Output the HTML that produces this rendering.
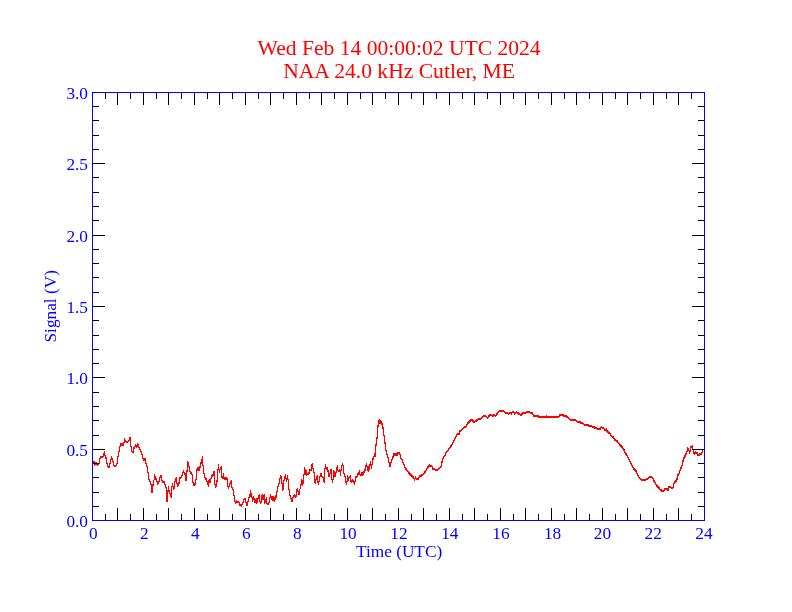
<!DOCTYPE html>
<html><head><meta charset="utf-8"><title>NAA 24.0 kHz Cutler, ME</title>
<style>
html,body{margin:0;padding:0;background:#fff;}
svg{display:block;font-family:"Liberation Serif",serif;}
</style></head><body>
<svg width="792" height="612" viewBox="0 0 792 612">
<rect width="792" height="612" fill="#fff"/>
<g fill="#f00" font-size="21.6" text-anchor="middle">
<text x="399.1" y="55">Wed Feb 14 00:00:02 UTC 2024</text>
<text x="399.1" y="77.8">NAA 24.0 kHz Cutler, ME</text>
</g>
<g fill="none" stroke="#f00" stroke-width="1" stroke-linejoin="round" shape-rendering="crispEdges"><polyline points="93.0,462.8 94.2,460.9 94.9,464.3 96.1,462.1 97.2,464.5 99.1,462.8 100.2,457.5 101.4,456.0 102.9,456.0 104.4,451.8 104.8,454.5 105.9,456.8 106.7,462.1 107.8,465.9 109.3,466.6 110.5,460.6 111.6,456.8 112.7,459.8 113.9,464.7 115.0,465.9 116.9,464.0 117.7,457.5 118.8,452.2 119.5,447.7 120.7,443.9 121.2,445.0 121.8,443.0 122.4,445.0 123.0,443.1 123.7,444.3 124.5,439.0 126.0,441.2 128.6,440.9 130.2,437.1 130.5,443.1 131.7,450.7 133.2,451.8 133.9,447.7 135.5,445.0 136.6,446.9 137.7,443.1 138.5,446.2 140.4,449.6 141.5,452.2 143.0,458.3 143.8,459.7 144.9,458.2 145.7,460.8 146.4,465.7 147.6,466.1 148.0,471.8 148.7,478.2 149.8,480.5 151.0,483.9 151.4,484.7 151.7,491.9 152.0,485.0 152.3,491.9 152.6,484.7 153.5,483.9 154.0,479.7 154.5,474.1 155.5,478.2 156.7,479.0 157.6,483.5 158.9,482.0 159.8,477.5 160.8,475.2 161.6,476.0 162.0,479.7 162.7,482.0 164.2,481.3 165.0,484.3 166.1,487.3 166.5,500.2 166.9,488.8 167.3,501.0 167.7,493.4 168.4,486.9 169.2,491.1 170.3,494.1 171.2,496.4 171.7,488.1 172.6,483.2 173.3,488.5 174.5,487.3 175.0,481.3 176.4,477.5 176.7,482.0 177.7,485.4 178.6,483.5 179.4,481.6 179.8,477.5 181.3,476.7 182.0,474.8 183.6,471.0 184.7,473.3 185.3,473.3 185.6,479.7 185.9,473.7 186.2,479.7 186.4,471.4 187.3,469.9 187.9,461.2 188.9,465.0 189.6,470.7 191.5,472.9 192.3,475.2 192.8,481.6 193.6,484.7 195.3,483.2 196.1,478.2 196.5,471.2 197.3,467.8 197.9,470.1 198.5,467.4 199.1,469.7 199.7,466.3 200.2,466.3 200.7,462.1 201.4,462.9 202.3,456.8 202.6,464.4 203.5,465.5 203.9,472.3 204.7,476.9 206.0,478.4 206.7,480.3 207.5,481.4 208.3,486.0 208.6,480.7 209.2,481.8 209.8,479.2 210.5,481.4 210.9,478.0 211.8,475.4 212.8,475.7 213.6,471.2 214.5,471.6 214.8,482.6 215.6,486.7 216.6,485.6 217.0,480.3 217.6,479.9 217.9,470.1 218.5,464.8 219.4,471.6 220.4,467.4 221.4,467.0 221.7,476.9 222.7,478.0 223.4,473.8 223.9,477.3 224.4,478.9 224.9,476.9 225.5,478.9 226.1,476.9 226.7,478.8 227.4,478.8 227.7,484.8 228.5,487.9 229.5,484.8 230.2,481.8 231.4,481.0 231.7,486.3 232.7,488.2 233.6,489.7 233.8,494.7 234.5,495.4 234.9,500.3 235.7,502.6 236.7,500.0 237.4,501.5 238.5,501.1 239.5,503.4 240.2,505.0 240.8,504.1 241.4,505.2 242.0,504.1 242.5,503.0 243.5,500.7 244.4,498.1 245.5,498.5 245.9,501.1 246.7,504.9 247.6,503.4 248.0,501.1 248.8,498.8 249.5,494.3 249.8,496.9 250.3,490.9 250.8,493.9 251.2,496.9 251.6,493.9 252.0,497.3 252.7,500.7 253.3,496.9 254.2,498.8 254.6,501.9 255.0,498.8 255.4,502.0 255.8,499.2 256.2,502.2 256.7,498.8 257.1,501.9 257.7,498.8 258.6,495.8 259.4,494.7 259.7,499.6 260.5,503.0 261.2,501.1 261.7,495.8 262.1,498.8 262.6,494.7 263.0,498.8 263.5,495.4 263.9,498.8 264.5,494.7 264.8,502.6 265.8,499.6 266.5,497.7 267.1,503.4 268.3,503.8 269.2,501.1 269.8,497.7 270.5,494.7 271.5,496.6 272.0,499.2 272.4,496.9 272.9,500.0 273.3,496.9 273.8,500.0 274.3,497.7 274.8,500.2 275.3,497.7 275.6,495.8 276.4,496.6 276.8,492.8 277.7,486.7 278.9,483.7 279.6,481.0 280.4,475.0 281.5,476.5 281.9,481.8 282.9,489.7 283.8,481.8 284.5,476.9 285.5,475.0 286.4,480.7 287.4,475.7 288.3,481.0 288.6,488.8 289.5,489.2 289.9,494.9 290.9,497.2 291.8,501.0 292.6,499.1 293.3,495.3 294.5,494.9 295.5,496.8 296.4,494.5 296.5,490.3 297.5,488.1 298.0,490.7 298.9,493.6 299.1,491.1 299.3,493.6 299.5,489.2 300.5,488.5 300.9,484.7 301.5,479.7 302.0,484.3 302.4,480.1 302.9,484.9 303.2,479.7 303.6,474.8 304.3,473.7 304.5,467.2 305.1,472.5 305.5,469.5 305.9,473.3 306.4,470.7 306.8,474.3 307.7,473.7 309.1,472.5 309.4,469.1 311.1,469.5 311.5,465.0 311.9,468.8 312.3,463.1 312.7,467.6 313.6,468.4 313.8,471.8 314.5,472.2 314.7,482.0 315.7,482.8 316.1,477.8 317.4,476.0 317.7,480.1 318.3,483.9 319.1,480.9 319.7,477.5 320.6,473.3 321.5,473.3 322.1,476.3 323.3,477.5 323.6,480.9 324.0,477.8 324.4,481.1 324.8,469.5 325.5,465.0 326.3,468.8 327.4,467.2 327.8,470.7 328.6,471.0 328.8,475.2 329.7,475.6 330.5,469.9 331.4,469.9 331.8,477.5 332.6,482.0 333.1,477.8 333.5,471.0 333.9,475.6 334.4,471.8 334.8,475.8 335.4,473.3 335.6,475.8 335.9,472.2 336.7,468.0 337.4,465.7 338.0,469.9 339.2,471.0 339.9,469.1 340.7,474.8 341.2,466.9 342.4,463.7 343.4,466.0 343.6,472.8 344.5,473.2 345.2,477.4 345.7,481.9 346.7,483.1 347.2,479.7 347.6,475.9 348.3,479.7 349.2,476.2 350.2,475.9 350.6,480.0 351.4,481.9 352.5,479.3 353.5,480.8 354.4,483.1 355.2,480.4 355.5,477.0 356.7,476.6 357.6,474.0 358.6,472.8 359.5,470.9 359.8,474.0 361.2,474.7 361.7,472.5 362.1,474.5 362.6,472.1 363.0,474.0 363.5,471.3 363.9,472.8 364.4,469.8 365.4,469.8 365.8,466.4 366.4,463.7 367.3,466.8 367.7,469.4 368.2,466.8 368.6,470.9 369.2,467.9 369.7,465.3 370.5,461.8 371.4,467.2 372.2,463.0 372.6,459.2 373.3,458.1 374.2,455.8 374.8,453.5 375.4,455.8 375.5,444.7 376.4,444.0 376.5,437.9 377.5,437.2 377.5,425.8 378.5,425.0 378.6,420.5 379.1,422.4 379.5,419.5 380.0,422.0 380.5,420.1 380.9,423.1 381.3,421.6 381.7,423.5 382.6,423.5 382.8,427.3 383.6,427.7 383.8,434.9 384.7,435.3 384.8,442.5 385.6,442.8 385.8,450.0 386.6,450.8 387.0,453.8 387.9,456.9 388.9,461.1 389.6,465.6 390.4,465.6 390.8,463.0 391.7,460.0 392.7,457.3 393.6,455.0 393.9,453.1 394.5,455.0 395.2,453.1 395.7,454.7 396.4,453.1 397.0,454.7 398.0,452.0 399.5,453.1 400.5,454.3 400.9,457.7 402.2,459.6 403.3,462.6 404.5,465.6 405.6,467.9 407.5,470.6 409.4,473.2 411.7,475.1 413.6,477.4 414.5,479.3 415.5,477.0 416.6,478.5 418.5,478.5 419.6,475.1 420.8,475.9 421.5,474.7 423.4,474.0 424.5,472.5 425.7,470.2 426.8,468.7 428.0,466.4 429.5,464.9 430.6,465.6 432.1,466.0 432.5,468.3 434.4,468.3 435.5,469.4 437.4,469.4 438.6,468.3 440.1,467.2 441.2,465.6 441.8,462.2 442.7,459.2 443.5,456.5 445.0,455.0 446.5,451.2 448.0,450.1 449.5,447.5 451.5,445.0 453.4,440.8 454.9,438.1 456.4,435.1 457.6,433.2 459.1,433.6 459.8,430.9 462.1,428.7 464.4,426.4 465.9,426.4 467.0,424.1 468.6,421.8 470.5,420.0 472.0,419.2 473.9,421.5 476.1,420.3 478.4,418.8 480.3,418.8 482.6,416.2 484.8,415.0 486.4,416.5 487.9,417.3 489.0,415.4 490.9,413.9 492.8,415.4 494.7,414.3 495.5,415.4 497.0,413.5 498.9,411.2 500.8,410.1 503.0,410.1 504.9,412.0 507.3,412.2 508.4,413.7 509.5,412.2 510.7,412.2 511.4,413.7 512.6,411.1 513.7,411.5 514.8,413.7 516.4,411.1 517.5,412.6 519.4,413.4 520.5,414.9 522.0,413.4 523.9,412.2 525.8,412.2 527.3,411.1 528.9,411.1 530.4,412.2 532.3,412.2 533.2,414.9 534.5,415.3 538.0,415.3 538.7,416.4 545.5,416.4 546.3,415.4 547.0,416.4 558.8,416.4 559.7,414.1 560.4,414.3 562.7,414.3 563.8,415.3 565.7,415.3 567.2,416.5 568.7,418.0 570.6,419.3 575.2,419.3 576.3,420.6 577.8,421.4 579.7,421.4 580.8,422.4 582.7,422.4 584.6,424.4 587.7,424.4 589.2,425.4 591.1,425.6 592.2,426.3 594.1,426.5 595.2,427.5 596.7,427.6 597.9,428.6 600.2,428.4 601.5,426.5 602.4,427.5 603.6,427.5 604.7,429.2 605.8,429.3 606.6,428.4 606.8,430.5 608.5,432.2 610.0,433.1 611.5,435.8 613.4,436.5 614.5,438.9 617.2,440.8 619.5,443.8 621.4,446.1 623.3,448.0 625.2,452.2 627.4,455.6 628.6,458.2 630.5,461.6 632.3,465.4 634.2,468.8 635.8,470.0 637.3,473.4 639.2,477.2 641.8,479.8 644.8,479.8 647.1,478.3 648.4,477.7 649.9,476.2 651.4,476.2 652.9,477.7 654.1,480.7 655.6,483.0 656.7,485.3 658.6,486.8 660.5,489.4 662.0,490.2 663.5,490.6 665.0,488.7 666.6,488.3 668.1,489.4 668.8,486.8 670.0,486.0 671.5,487.2 673.0,487.2 673.8,484.1 674.5,481.9 676.4,480.0 677.2,478.1 677.9,474.7 679.4,472.4 680.6,468.2 681.7,466.0 682.4,463.9 683.4,458.3 684.4,457.3 685.4,454.3 686.4,453.0 687.2,450.2 687.7,447.9 688.7,448.2 689.5,452.7 690.2,450.2 690.6,446.2 692.3,445.9 692.8,448.2 693.5,450.7 694.3,453.8 695.3,451.0 696.1,453.0 697.1,452.0 697.6,454.5 699.1,454.8 700.1,453.5 701.4,453.2 702.4,451.2 703.1,449.7"/><polyline points="93.0,463.8 94.2,461.9 94.9,465.3 96.1,463.1 97.2,465.5 99.1,463.8 100.2,458.5 101.4,457.0 102.9,457.0 104.4,452.8 104.8,455.5 105.9,457.8 106.7,463.1 107.8,466.9 109.3,467.6 110.5,461.6 111.6,457.8 112.7,460.8 113.9,465.7 115.0,466.9 116.9,465.0 117.7,458.5 118.8,453.2 119.5,448.7 120.7,444.9 121.2,446.0 121.8,444.0 122.4,446.0 123.0,444.1 123.7,445.3 124.5,440.0 126.0,442.2 128.6,441.9 130.2,438.1 130.5,444.1 131.7,451.7 133.2,452.8 133.9,448.7 135.5,446.0 136.6,447.9 137.7,444.1 138.5,447.2 140.4,450.6 141.5,453.2 143.0,459.3 143.8,460.7 144.9,459.2 145.7,461.8 146.4,466.7 147.6,467.1 148.0,472.8 148.7,479.2 149.8,481.5 151.0,484.9 151.4,485.7 151.7,492.9 152.0,486.0 152.3,492.9 152.6,485.7 153.5,484.9 154.0,480.7 154.5,475.1 155.5,479.2 156.7,480.0 157.6,484.5 158.9,483.0 159.8,478.5 160.8,476.2 161.6,477.0 162.0,480.7 162.7,483.0 164.2,482.3 165.0,485.3 166.1,488.3 166.5,501.2 166.9,489.8 167.3,502.0 167.7,494.4 168.4,487.9 169.2,492.1 170.3,495.1 171.2,497.4 171.7,489.1 172.6,484.2 173.3,489.5 174.5,488.3 175.0,482.3 176.4,478.5 176.7,483.0 177.7,486.4 178.6,484.5 179.4,482.6 179.8,478.5 181.3,477.7 182.0,475.8 183.6,472.0 184.7,474.3 185.3,474.3 185.6,480.7 185.9,474.7 186.2,480.7 186.4,472.4 187.3,470.9 187.9,462.2 188.9,466.0 189.6,471.7 191.5,473.9 192.3,476.2 192.8,482.6 193.6,485.7 195.3,484.2 196.1,479.2 196.5,472.2 197.3,468.8 197.9,471.1 198.5,468.4 199.1,470.7 199.7,467.3 200.2,467.3 200.7,463.1 201.4,463.9 202.3,457.8 202.6,465.4 203.5,466.5 203.9,473.3 204.7,477.9 206.0,479.4 206.7,481.3 207.5,482.4 208.3,487.0 208.6,481.7 209.2,482.8 209.8,480.2 210.5,482.4 210.9,479.0 211.8,476.4 212.8,476.7 213.6,472.2 214.5,472.6 214.8,483.6 215.6,487.7 216.6,486.6 217.0,481.3 217.6,480.9 217.9,471.1 218.5,465.8 219.4,472.6 220.4,468.4 221.4,468.0 221.7,477.9 222.7,479.0 223.4,474.8 223.9,478.3 224.4,479.9 224.9,477.9 225.5,479.9 226.1,477.9 226.7,479.8 227.4,479.8 227.7,485.8 228.5,488.9 229.5,485.8 230.2,482.8 231.4,482.0 231.7,487.3 232.7,489.2 233.6,490.7 233.8,495.7 234.5,496.4 234.9,501.3 235.7,503.6 236.7,501.0 237.4,502.5 238.5,502.1 239.5,504.4 240.2,506.0 240.8,505.1 241.4,506.2 242.0,505.1 242.5,504.0 243.5,501.7 244.4,499.1 245.5,499.5 245.9,502.1 246.7,505.9 247.6,504.4 248.0,502.1 248.8,499.8 249.5,495.3 249.8,497.9 250.3,491.9 250.8,494.9 251.2,497.9 251.6,494.9 252.0,498.3 252.7,501.7 253.3,497.9 254.2,499.8 254.6,502.9 255.0,499.8 255.4,503.0 255.8,500.2 256.2,503.2 256.7,499.8 257.1,502.9 257.7,499.8 258.6,496.8 259.4,495.7 259.7,500.6 260.5,504.0 261.2,502.1 261.7,496.8 262.1,499.8 262.6,495.7 263.0,499.8 263.5,496.4 263.9,499.8 264.5,495.7 264.8,503.6 265.8,500.6 266.5,498.7 267.1,504.4 268.3,504.8 269.2,502.1 269.8,498.7 270.5,495.7 271.5,497.6 272.0,500.2 272.4,497.9 272.9,501.0 273.3,497.9 273.8,501.0 274.3,498.7 274.8,501.2 275.3,498.7 275.6,496.8 276.4,497.6 276.8,493.8 277.7,487.7 278.9,484.7 279.6,482.0 280.4,476.0 281.5,477.5 281.9,482.8 282.9,490.7 283.8,482.8 284.5,477.9 285.5,476.0 286.4,481.7 287.4,476.7 288.3,482.0 288.6,489.8 289.5,490.2 289.9,495.9 290.9,498.2 291.8,502.0 292.6,500.1 293.3,496.3 294.5,495.9 295.5,497.8 296.4,495.5 296.5,491.3 297.5,489.1 298.0,491.7 298.9,494.6 299.1,492.1 299.3,494.6 299.5,490.2 300.5,489.5 300.9,485.7 301.5,480.7 302.0,485.3 302.4,481.1 302.9,485.9 303.2,480.7 303.6,475.8 304.3,474.7 304.5,468.2 305.1,473.5 305.5,470.5 305.9,474.3 306.4,471.7 306.8,475.3 307.7,474.7 309.1,473.5 309.4,470.1 311.1,470.5 311.5,466.0 311.9,469.8 312.3,464.1 312.7,468.6 313.6,469.4 313.8,472.8 314.5,473.2 314.7,483.0 315.7,483.8 316.1,478.8 317.4,477.0 317.7,481.1 318.3,484.9 319.1,481.9 319.7,478.5 320.6,474.3 321.5,474.3 322.1,477.3 323.3,478.5 323.6,481.9 324.0,478.8 324.4,482.1 324.8,470.5 325.5,466.0 326.3,469.8 327.4,468.2 327.8,471.7 328.6,472.0 328.8,476.2 329.7,476.6 330.5,470.9 331.4,470.9 331.8,478.5 332.6,483.0 333.1,478.8 333.5,472.0 333.9,476.6 334.4,472.8 334.8,476.8 335.4,474.3 335.6,476.8 335.9,473.2 336.7,469.0 337.4,466.7 338.0,470.9 339.2,472.0 339.9,470.1 340.7,475.8 341.2,467.9 342.4,464.7 343.4,467.0 343.6,473.8 344.5,474.2 345.2,478.4 345.7,482.9 346.7,484.1 347.2,480.7 347.6,476.9 348.3,480.7 349.2,477.2 350.2,476.9 350.6,481.0 351.4,482.9 352.5,480.3 353.5,481.8 354.4,484.1 355.2,481.4 355.5,478.0 356.7,477.6 357.6,475.0 358.6,473.8 359.5,471.9 359.8,475.0 361.2,475.7 361.7,473.5 362.1,475.5 362.6,473.1 363.0,475.0 363.5,472.3 363.9,473.8 364.4,470.8 365.4,470.8 365.8,467.4 366.4,464.7 367.3,467.8 367.7,470.4 368.2,467.8 368.6,471.9 369.2,468.9 369.7,466.3 370.5,462.8 371.4,468.2 372.2,464.0 372.6,460.2 373.3,459.1 374.2,456.8 374.8,454.5 375.4,456.8 375.5,445.7 376.4,445.0 376.5,438.9 377.5,438.2 377.5,426.8 378.5,426.0 378.6,421.5 379.1,423.4 379.5,420.5 380.0,423.0 380.5,421.1 380.9,424.1 381.3,422.6 381.7,424.5 382.6,424.5 382.8,428.3 383.6,428.7 383.8,435.9 384.7,436.3 384.8,443.5 385.6,443.8 385.8,451.0 386.6,451.8 387.0,454.8 387.9,457.9 388.9,462.1 389.6,466.6 390.4,466.6 390.8,464.0 391.7,461.0 392.7,458.3 393.6,456.0 393.9,454.1 394.5,456.0 395.2,454.1 395.7,455.7 396.4,454.1 397.0,455.7 398.0,453.0 399.5,454.1 400.5,455.3 400.9,458.7 402.2,460.6 403.3,463.6 404.5,466.6 405.6,468.9 407.5,471.6 409.4,474.2 411.7,476.1 413.6,478.4 414.5,480.3 415.5,478.0 416.6,479.5 418.5,479.5 419.6,476.1 420.8,476.9 421.5,475.7 423.4,475.0 424.5,473.5 425.7,471.2 426.8,469.7 428.0,467.4 429.5,465.9 430.6,466.6 432.1,467.0 432.5,469.3 434.4,469.3 435.5,470.4 437.4,470.4 438.6,469.3 440.1,468.2 441.2,466.6 441.8,463.2 442.7,460.2 443.5,457.5 445.0,456.0 446.5,452.2 448.0,451.1 449.5,448.5 451.5,446.0 453.4,441.8 454.9,439.1 456.4,436.1 457.6,434.2 459.1,434.6 459.8,431.9 462.1,429.7 464.4,427.4 465.9,427.4 467.0,425.1 468.6,422.8 470.5,421.0 472.0,420.2 473.9,422.5 476.1,421.3 478.4,419.8 480.3,419.8 482.6,417.2 484.8,416.0 486.4,417.5 487.9,418.3 489.0,416.4 490.9,414.9 492.8,416.4 494.7,415.3 495.5,416.4 497.0,414.5 498.9,412.2 500.8,411.1 503.0,411.1 504.9,413.0 507.3,413.2 508.4,414.7 509.5,413.2 510.7,413.2 511.4,414.7 512.6,412.1 513.7,412.5 514.8,414.7 516.4,412.1 517.5,413.6 519.4,414.4 520.5,415.9 522.0,414.4 523.9,413.2 525.8,413.2 527.3,412.1 528.9,412.1 530.4,413.2 532.3,413.2 533.2,415.9 534.5,416.3 538.0,416.3 538.7,417.4 545.5,417.4 546.3,416.4 547.0,417.4 558.8,417.4 559.7,415.1 560.4,415.3 562.7,415.3 563.8,416.3 565.7,416.3 567.2,417.5 568.7,419.0 570.6,420.3 575.2,420.3 576.3,421.6 577.8,422.4 579.7,422.4 580.8,423.4 582.7,423.4 584.6,425.4 587.7,425.4 589.2,426.4 591.1,426.6 592.2,427.3 594.1,427.5 595.2,428.5 596.7,428.6 597.9,429.6 600.2,429.4 601.5,427.5 602.4,428.5 603.6,428.5 604.7,430.2 605.8,430.3 606.6,429.4 606.8,431.5 608.5,433.2 610.0,434.1 611.5,436.8 613.4,437.5 614.5,439.9 617.2,441.8 619.5,444.8 621.4,447.1 623.3,449.0 625.2,453.2 627.4,456.6 628.6,459.2 630.5,462.6 632.3,466.4 634.2,469.8 635.8,471.0 637.3,474.4 639.2,478.2 641.8,480.8 644.8,480.8 647.1,479.3 648.4,478.7 649.9,477.2 651.4,477.2 652.9,478.7 654.1,481.7 655.6,484.0 656.7,486.3 658.6,487.8 660.5,490.4 662.0,491.2 663.5,491.6 665.0,489.7 666.6,489.3 668.1,490.4 668.8,487.8 670.0,487.0 671.5,488.2 673.0,488.2 673.8,485.1 674.5,482.9 676.4,481.0 677.2,479.1 677.9,475.7 679.4,473.4 680.6,469.2 681.7,467.0 682.4,464.9 683.4,459.3 684.4,458.3 685.4,455.3 686.4,454.0 687.2,451.2 687.7,448.9 688.7,449.2 689.5,453.7 690.2,451.2 690.6,447.2 692.3,446.9 692.8,449.2 693.5,451.7 694.3,454.8 695.3,452.0 696.1,454.0 697.1,453.0 697.6,455.5 699.1,455.8 700.1,454.5 701.4,454.2 702.4,452.2 703.1,450.7"/></g>
<path d="M92.5 521v-13M92.5 92v13M105.5 521v-7M105.5 92v7M117.5 521v-13M117.5 92v13M130.5 521v-7M130.5 92v7M143.5 521v-13M143.5 92v13M156.5 521v-7M156.5 92v7M168.5 521v-13M168.5 92v13M181.5 521v-7M181.5 92v7M194.5 521v-13M194.5 92v13M207.5 521v-7M207.5 92v7M219.5 521v-13M219.5 92v13M232.5 521v-7M232.5 92v7M245.5 521v-13M245.5 92v13M258.5 521v-7M258.5 92v7M270.5 521v-13M270.5 92v13M283.5 521v-7M283.5 92v7M296.5 521v-13M296.5 92v13M309.5 521v-7M309.5 92v7M321.5 521v-13M321.5 92v13M334.5 521v-7M334.5 92v7M347.5 521v-13M347.5 92v13M360.5 521v-7M360.5 92v7M372.5 521v-13M372.5 92v13M385.5 521v-7M385.5 92v7M398.5 521v-13M398.5 92v13M411.5 521v-7M411.5 92v7M423.5 521v-13M423.5 92v13M436.5 521v-7M436.5 92v7M449.5 521v-13M449.5 92v13M462.5 521v-7M462.5 92v7M474.5 521v-13M474.5 92v13M487.5 521v-7M487.5 92v7M500.5 521v-13M500.5 92v13M513.5 521v-7M513.5 92v7M525.5 521v-13M525.5 92v13M538.5 521v-7M538.5 92v7M551.5 521v-13M551.5 92v13M564.5 521v-7M564.5 92v7M576.5 521v-13M576.5 92v13M589.5 521v-7M589.5 92v7M602.5 521v-13M602.5 92v13M615.5 521v-7M615.5 92v7M627.5 521v-13M627.5 92v13M640.5 521v-7M640.5 92v7M653.5 521v-13M653.5 92v13M666.5 521v-7M666.5 92v7M678.5 521v-13M678.5 92v13M691.5 521v-7M691.5 92v7M704.5 521v-13M704.5 92v13M92 520.5h13M705 520.5h-13M92 506.5h7M705 506.5h-7M92 492.5h7M705 492.5h-7M92 477.5h7M705 477.5h-7M92 463.5h7M705 463.5h-7M92 449.5h13M705 449.5h-13M92 435.5h7M705 435.5h-7M92 420.5h7M705 420.5h-7M92 406.5h7M705 406.5h-7M92 392.5h7M705 392.5h-7M92 377.5h13M705 377.5h-13M92 363.5h7M705 363.5h-7M92 349.5h7M705 349.5h-7M92 335.5h7M705 335.5h-7M92 320.5h7M705 320.5h-7M92 306.5h13M705 306.5h-13M92 292.5h7M705 292.5h-7M92 277.5h7M705 277.5h-7M92 263.5h7M705 263.5h-7M92 249.5h7M705 249.5h-7M92 235.5h13M705 235.5h-13M92 220.5h7M705 220.5h-7M92 206.5h7M705 206.5h-7M92 192.5h7M705 192.5h-7M92 177.5h7M705 177.5h-7M92 163.5h13M705 163.5h-13M92 149.5h7M705 149.5h-7M92 135.5h7M705 135.5h-7M92 120.5h7M705 120.5h-7M92 106.5h7M705 106.5h-7M92 92.5h13M705 92.5h-13" stroke="#000" stroke-width="1" fill="none" shape-rendering="crispEdges"/>
<rect x="92.5" y="92.5" width="612" height="428" fill="none" stroke="#00f" stroke-width="1" shape-rendering="crispEdges"/>
<g fill="#00f" font-size="17.3">
<text x="93.3" y="538.8" text-anchor="middle">0</text><text x="144.3" y="538.8" text-anchor="middle">2</text><text x="195.3" y="538.8" text-anchor="middle">4</text><text x="246.3" y="538.8" text-anchor="middle">6</text><text x="297.3" y="538.8" text-anchor="middle">8</text><text x="348.1" y="538.8" text-anchor="middle">10</text><text x="398.9" y="538.8" text-anchor="middle">12</text><text x="449.8" y="538.8" text-anchor="middle">14</text><text x="500.9" y="538.8" text-anchor="middle">16</text><text x="552.6" y="538.8" text-anchor="middle">18</text><text x="602.5" y="538.8" text-anchor="middle">20</text><text x="653.2" y="538.8" text-anchor="middle">22</text><text x="704.0" y="538.8" text-anchor="middle">24</text>
<text x="88" y="526.6" text-anchor="end">0.0</text><text x="88" y="455.6" text-anchor="end">0.5</text><text x="88" y="383.6" text-anchor="end">1.0</text><text x="88" y="312.6" text-anchor="end">1.5</text><text x="88" y="241.6" text-anchor="end">2.0</text><text x="88" y="169.6" text-anchor="end">2.5</text><text x="88" y="98.6" text-anchor="end">3.0</text>
<text x="399.1" y="557.2" text-anchor="middle">Time (UTC)</text>
<text transform="translate(56,306.3) rotate(-90)" text-anchor="middle">Signal (V)</text>
</g>
</svg>
</body></html>
